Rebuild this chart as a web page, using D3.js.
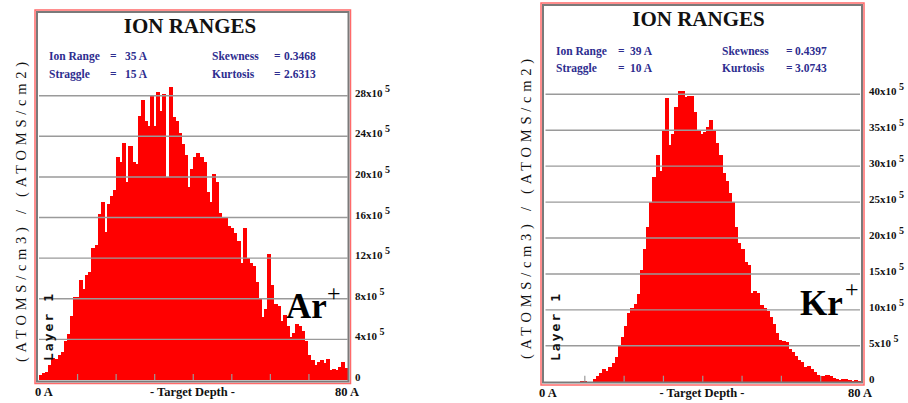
<!DOCTYPE html>
<html><head><meta charset="utf-8">
<script src="https://cdn.jsdelivr.net/npm/d3@7"></script>
<style>body{margin:0;background:#fff}svg{display:block}</style>
</head><body>
<svg id="c" width="908" height="403"></svg>
<script>
// ---------------- data ----------------
// Ar+ implant: 100 depth bins of 0.8 A, values in units of 1e5 (atoms/cm3)/(atoms/cm2)
const arCounts = [
 0.5,0.7,0.8,1.5,2.2,2.1,2.5,2.8,3.8,4.5,
 6.3,8.2,8.2,9.8,9.0,10.3,10.6,13.0,13.3,16.3,
 17.5,14.6,17.3,18.1,18.7,22.0,21.5,23.3,19.5,23.0,
 21.5,21.3,26.0,27.6,25.5,25.0,28.0,25.0,28.4,26.5,
 28.2,20.0,28.9,25.9,25.5,24.3,23.2,22.2,19.0,20.8,
 22.0,22.4,22.0,21.5,18.5,17.5,20.3,19.5,16.4,16.0,
 16.0,15.2,15.0,14.5,13.7,11.5,15.0,12.0,11.5,11.2,
 9.7,8.0,6.2,7.0,12.4,9.4,7.5,7.3,5.8,6.4,
 5.3,4.2,4.6,5.5,5.3,4.8,3.8,2.5,2.0,1.5,
 1.8,2.0,1.7,2.1,1.0,1.1,1.0,1.3,1.8,1.2
];
// Kr+ implant
const krCounts = [
 0,0,0,0,0,0,0,0,0,0,
 0,0.1,0.15,0,0,0.4,0.8,1.2,1.7,1.5,
 2.0,2.6,3.5,5.0,6.2,7.8,9.5,10.3,10.8,12.2,
 15.5,18.5,21.5,25.0,28.5,31.5,29.3,35.0,39.5,33.0,
 34.5,38.3,40.5,40.5,39.6,39.7,39.8,37.5,35.0,34.5,
 34.8,35.5,36.4,35.0,33.2,31.5,29.0,28.0,26.2,25.0,
 21.5,19.3,18.5,16.6,16.2,12.4,12.6,12.4,10.7,10.3,
 9.9,9.0,8.0,6.8,5.8,5.6,5.5,4.6,4.2,3.6,
 3.0,2.7,2.0,2.2,1.8,1.3,0.9,0.8,0.85,0.9,
 0.8,0.5,0.4,0.3,0.35,0.4,0.3,0.15,0.2,0.1
];
const binWidth = 0.8;          // A per bin
const depthDomain = [0, 80];   // A
const depthTicks = [10,20,30,40,50,60,70];
const arTicks = [0,4,8,12,16,20,24,28];
const krTicks = [0,5,10,15,20,25,30,35,40];
const arDomainMax = 28, krDomainMax = 40;
const statNames = ["Ion Range","Straggle","Skewness","Kurtosis"];
const arStatValues = ["35 A","15 A","0.3468","2.6313"];
const krStatValues = ["39 A","10 A","0.4397","3.0743"];
const titleText = "ION RANGES";
const yTitleText = "(ATOMS/cm3) / (ATOMS/cm2)";
const layerText = "Layer 1";
const xLeftLabel = "0 A", xRightLabel = "80 A", xMidLabel = "- Target Depth -";
const arIon = "Ar", krIon = "Kr";

// ---------------- layout ----------------
const panels = [
 {counts:arCounts, ticks:arTicks, max:arDomainMax, stats:arStatValues, ion:arIon,
  red:[35,10,350.5,383.5], gray:[37,12,348.5,381.5], px:[39,347.5], py:[380,95.7],
  titleX:190, titleY:33, statY:[60,78], c1:[49,110,125], c2:[212,274,284],
  tickX:355, xlabY:396, x0:35, x80:359, xMid:192.5, yTitleX:26, yTitleC:212,
  layerX:53, layerY:361, ionX:286, ionY:318, plusX:327, plusY:301},
 {counts:krCounts, ticks:krTicks, max:krDomainMax, stats:krStatValues, ion:krIon,
  red:[541,3,864,385], gray:[543,5,862,382.5], px:[545.5,860], py:[381.7,94.3],
  titleX:698.5, titleY:26, statY:[55,72], c1:[556,618,630], c2:[722,786,795],
  tickX:869, xlabY:397, x0:539, x80:872, xMid:702, yTitleX:531, yTitleC:209,
  layerX:560, layerY:361, ionX:800, ionY:315, plusX:845, plusY:297}
];

const svg = d3.select("#c");
const serif = "'Liberation Serif','Times New Roman',serif";

panels.forEach(p => {
  const g = svg.append("g");
  const x = d3.scaleLinear().domain(depthDomain).range(p.px);
  const y = d3.scaleLinear().domain([0, p.max]).range(p.py);
  const bw = x(binWidth) - x(0);

  // bars
  g.append("g").attr("shape-rendering","crispEdges")
    .selectAll("rect").data(p.counts).join("rect")
    .attr("x", (d,i) => x(i*binWidth))
    .attr("width", bw + 1)
    .attr("y", d => y(d))
    .attr("height", d => y(0) - y(d))
    .attr("fill", "#ff0000");

  // gridlines over bars
  g.append("g").selectAll("line").data(p.ticks.filter(t => t > 0)).join("line")
    .attr("x1", p.px[0]).attr("x2", p.px[1])
    .attr("y1", d => y(d)).attr("y2", d => y(d))
    .attr("stroke", "#9a9a9a").attr("stroke-width", 1.4);

  // depth tick marks
  g.append("g").selectAll("line").data(depthTicks).join("line")
    .attr("x1", d => x(d)).attr("x2", d => x(d))
    .attr("y1", y(0)).attr("y2", y(0) - 6)
    .attr("stroke", "#9a9a9a").attr("stroke-width", 1.2);

  // frames
  g.append("rect").attr("x", p.red[0]).attr("y", p.red[1])
    .attr("width", p.red[2]-p.red[0]).attr("height", p.red[3]-p.red[1])
    .attr("fill", "none").attr("stroke", "#ff6a6a").attr("stroke-width", 1.5);
  g.append("rect").attr("x", p.gray[0]).attr("y", p.gray[1])
    .attr("width", p.gray[2]-p.gray[0]).attr("height", p.gray[3]-p.gray[1])
    .attr("fill", "none").attr("stroke", "#7a7a7a").attr("stroke-width", 2);

  // right axis labels
  const ax = g.append("g").attr("transform", `translate(${p.tickX},0)`)
    .call(d3.axisRight(y).tickValues(p.ticks).tickSize(0).tickPadding(0).tickFormat(d => d));
  ax.select(".domain").remove();
  ax.selectAll("text").each(function(d){
    const t = d3.select(this);
    t.text(null).attr("x", 0).attr("dy", "0.05em").attr("text-anchor","start")
     .attr("font-family", serif).attr("font-size", 11).attr("font-weight","bold").attr("fill","#111");
    if (d === 0) { t.text("0"); }
    else {
      t.append("tspan").text(d + "x10");
      t.append("tspan").attr("dx", 2.5).attr("dy", -5).attr("font-size", 10).text("5");
    }
  });

  // title
  g.append("text").attr("x", p.titleX).attr("y", p.titleY).attr("text-anchor","middle")
    .attr("font-family", serif).attr("font-weight","bold").attr("font-size", 21)
    .attr("fill","#111").text(titleText);

  // stats
  const statCols = [p.c1, p.c1, p.c2, p.c2];
  statNames.forEach((n, i) => {
    const c = statCols[i], yy = p.statY[i % 2];
    const st = g.append("g").attr("font-family", serif).attr("font-weight","bold")
      .attr("font-size", 11.5).attr("fill", "#2d2d8f");
    st.append("text").attr("x", c[0]).attr("y", yy).text(n);
    st.append("text").attr("x", c[1]).attr("y", yy).text("=");
    st.append("text").attr("x", c[2]).attr("y", yy).text(p.stats[i]);
  });

  // x labels
  const xl = g.append("g").attr("font-family", serif).attr("font-weight","bold")
    .attr("font-size", 12.5).attr("fill","#111");
  xl.append("text").attr("x", p.x0).attr("y", p.xlabY).text(xLeftLabel);
  xl.append("text").attr("x", p.x80).attr("y", p.xlabY).attr("text-anchor","end").text(xRightLabel);
  xl.append("text").attr("x", p.xMid).attr("y", p.xlabY).attr("text-anchor","middle").text(xMidLabel);

  // y title (rotated)
  g.append("text").attr("transform", `translate(${p.yTitleX},${p.yTitleC}) rotate(-90)`)
    .attr("text-anchor","middle").attr("font-family", serif)
    .attr("font-size", 14.5).attr("fill","#111")
    .attr("textLength", 300).attr("lengthAdjust","spacing").text(yTitleText);

  // layer label
  g.append("text").attr("transform", `translate(${p.layerX},${p.layerY}) rotate(-90)`)
    .attr("font-family","'DejaVu Sans Mono',monospace").attr("font-size", 13).attr("font-weight","bold")
    .attr("fill","#111").attr("textLength", 67).attr("lengthAdjust","spacing").text(layerText);

  // ion label
  g.append("text").attr("x", p.ionX).attr("y", p.ionY)
    .attr("font-family", serif).attr("font-weight","bold").attr("font-size", 35)
    .attr("fill","#000").text(p.ion);
  g.append("text").attr("x", p.plusX).attr("y", p.plusY)
    .attr("font-family", serif).attr("font-size", 24).attr("fill","#000").text("+");
});
</script>
</body></html>
